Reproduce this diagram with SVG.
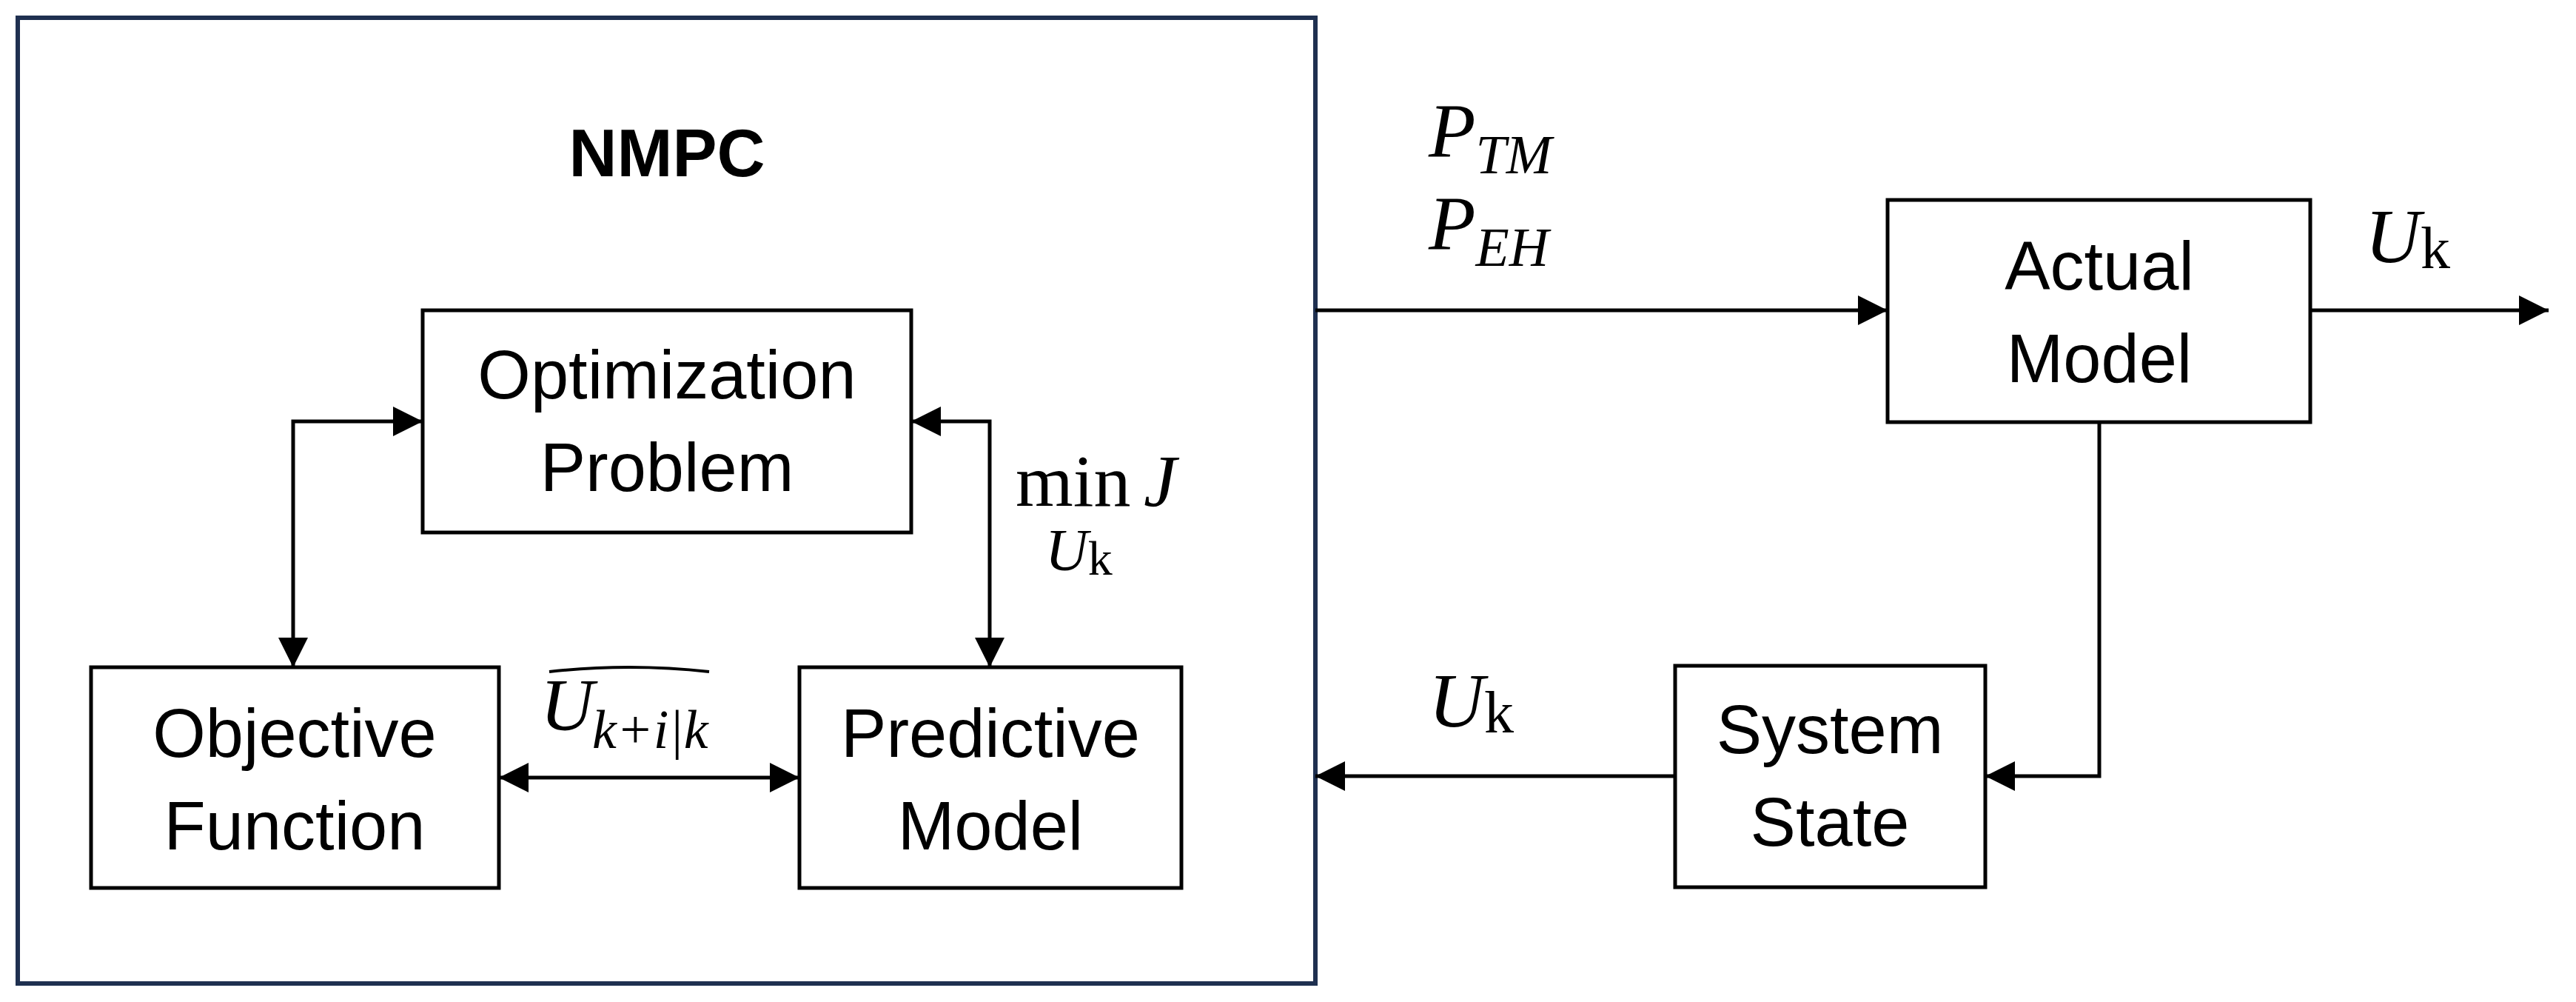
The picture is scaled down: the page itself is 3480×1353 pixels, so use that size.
<svg xmlns="http://www.w3.org/2000/svg" width="3480" height="1353" viewBox="0 0 3480 1353">
<style>
.box{fill:#fff;stroke:#000;stroke-width:5}
.lbl{font-family:"Liberation Sans",Arial,sans-serif;font-size:92px;fill:#000;text-anchor:middle}
.m{font-family:"Liberation Serif","Times New Roman",serif;fill:#000}
.i{font-style:italic}
.ln{fill:none;stroke:#000;stroke-width:5}
</style>
<defs>
<marker id="b" viewBox="0 0 10 10" refX="10" refY="5" markerWidth="8" markerHeight="8" orient="auto-start-reverse">
<path d="M0,0 L10,5 L0,10 z" fill="#000"/>
</marker>
</defs>
<rect width="3480" height="1353" fill="#fff"/>
<g id="nmpc">
<rect x="24" y="24" width="1753" height="1304" fill="none" stroke="#1f3050" stroke-width="6"/>
<text x="901" y="238" font-family="'Liberation Sans',Arial,sans-serif" font-size="90" font-weight="bold" text-anchor="middle">NMPC</text>
</g>
<g id="opt"><rect class="box" x="571" y="419" width="660" height="300"/>
<text class="lbl" x="901" y="538">Optimization</text><text class="lbl" x="901" y="663">Problem</text></g>
<g id="obj"><rect class="box" x="123" y="901" width="551" height="298"/>
<text class="lbl" x="398" y="1022">Objective</text><text class="lbl" x="398" y="1147">Function</text></g>
<g id="pred"><rect class="box" x="1080" y="901" width="516" height="298"/>
<text class="lbl" x="1338" y="1022">Predictive</text><text class="lbl" x="1338" y="1147">Model</text></g>
<g id="actual"><rect class="box" x="2550" y="270" width="571" height="300"/>
<text class="lbl" x="2836" y="391">Actual</text><text class="lbl" x="2836" y="516">Model</text></g>
<g id="state"><rect class="box" x="2263" y="899" width="419" height="299"/>
<text class="lbl" x="2472" y="1017">System</text><text class="lbl" x="2472" y="1142">State</text></g>
<g id="connectors">
<path class="ln" d="M571,569 H396 V901" marker-start="url(#b)" marker-end="url(#b)"/>
<path class="ln" d="M1231,569 H1337 V901" marker-start="url(#b)" marker-end="url(#b)"/>
<path class="ln" d="M674,1050 H1080" marker-start="url(#b)" marker-end="url(#b)"/>
<path class="ln" d="M1777,419 H2550" marker-end="url(#b)"/>
<path class="ln" d="M3121,419 H3443" marker-end="url(#b)"/>
<path class="ln" d="M2836,570 V1048 H2682" marker-end="url(#b)"/>
<path class="ln" d="M2263,1048 H1777" marker-end="url(#b)"/>
</g>
<g id="labels">
<text class="m" x="1372" y="683" font-size="100">min</text>
<text class="m i" x="1545" y="683" font-size="100">J</text>
<text class="m" x="1412" y="770" font-size="80"><tspan class="i">U</tspan><tspan font-size="66" dy="6">k</tspan></text>
<text class="m i" x="730" y="985" font-size="100">U</text>
<text class="m i" x="800" y="1010" font-size="74">k+i|k</text>
<path d="M742,907 Q850,895 958,907" fill="none" stroke="#000" stroke-width="4"/>
<text class="m" x="1930" y="212" font-size="104"><tspan class="i">P</tspan><tspan class="i" font-size="74" dy="22">TM</tspan></text>
<text class="m" x="1930" y="337" font-size="104"><tspan class="i">P</tspan><tspan class="i" font-size="74" dy="22">EH</tspan></text>
<text class="m" x="3195" y="354" font-size="104"><tspan class="i">U</tspan><tspan font-size="80" dy="8">k</tspan></text>
<text class="m" x="1930" y="981" font-size="104"><tspan class="i">U</tspan><tspan font-size="80" dy="8">k</tspan></text>
</g>
</svg>
